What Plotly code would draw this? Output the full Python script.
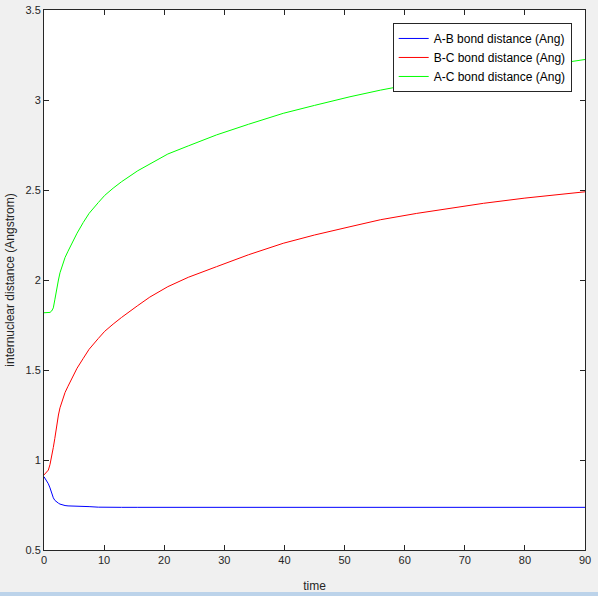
import plotly.graph_objects as go

time = [0, 0.5, 0.72, 1.0, 1.28, 1.55, 1.8, 2.1, 2.4, 2.66, 3.0, 3.5, 4.0, 4.88, 5.5, 6.54, 7.5,
        9.03, 10.1, 11.5, 12.9, 15.6, 17.6, 20.6, 24.0, 28.7, 34.0, 39.8, 45.0, 50.9, 56.0,
        62.0, 67.0, 73.1, 80.0, 85.0, 90.0]
ab_dist = [0.907, 0.880, 0.868, 0.845, 0.815, 0.790, 0.776, 0.766, 0.760, 0.755, 0.751, 0.747,
           0.745, 0.743, 0.742, 0.742, 0.741, 0.738, 0.737, 0.737, 0.737, 0.737, 0.737, 0.737,
           0.737, 0.737, 0.737, 0.737, 0.737, 0.737, 0.737, 0.737, 0.737, 0.737, 0.737, 0.737, 0.737]
bc_dist = [0.917, 0.932, 0.944, 0.975, 1.018, 1.070, 1.120, 1.190, 1.250, 1.290, 1.330, 1.375,
           1.410, 1.470, 1.510, 1.565, 1.615, 1.675, 1.715, 1.755, 1.792, 1.858, 1.905, 1.963,
           2.015, 2.074, 2.140, 2.204, 2.250, 2.296, 2.335, 2.370, 2.395, 2.426, 2.455, 2.472, 2.490]
ac_dist = [1.818, 1.818, 1.818, 1.820, 1.828, 1.845, 1.890, 1.955, 2.000, 2.040, 2.080, 2.125,
           2.160, 2.220, 2.260, 2.320, 2.370, 2.430, 2.470, 2.510, 2.546, 2.607, 2.644, 2.700,
           2.745, 2.806, 2.865, 2.926, 2.970, 3.018, 3.055, 3.093, 3.120, 3.150, 3.180, 3.200, 3.225]
names = ["A-B bond distance (Ang)", "B-C bond distance (Ang)", "A-C bond distance (Ang)"]
colors = ["#0000ff", "#ff0000", "#00ff00"]

FONT = "Liberation Sans, Arial, sans-serif"
AX = "#262626"

fig = go.Figure()
for ys, nm, c in zip([ab_dist, bc_dist, ac_dist], names, colors):
    fig.add_trace(go.Scatter(x=time, y=ys, mode="lines", name=nm,
                             line=dict(color=c, width=1)))

axis_common = dict(showgrid=False, zeroline=False, showline=True, linecolor=AX,
                   linewidth=1, mirror="allticks", ticks="inside", ticklen=5,
                   tickcolor=AX, automargin=False,
                   tickfont=dict(family=FONT, size=11, color=AX))
fig.update_xaxes(range=[0, 90], tickvals=list(range(0, 91, 10)),
                 title=dict(text="time", font=dict(family=FONT, size=12, color=AX), standoff=16),
                 **axis_common)
fig.update_yaxes(range=[0.5, 3.5], tickvals=[0.5, 1, 1.5, 2, 2.5, 3, 3.5],
                 ticktext=["0.5", "1", "1.5", "2", "2.5", "3", "3.5"],
                 title=dict(text="internuclear distance (Angstrom)",
                            font=dict(family=FONT, size=12, color=AX), standoff=8),
                 **axis_common)

fig.add_shape(type="rect", xref="paper", yref="paper", x0=-0.2, x1=1.2,
              y0=-0.078, y1=-0.2, fillcolor="#bcd3ea", line=dict(width=0), layer="above")

fig.update_layout(
    width=598, height=596,
    margin=dict(l=44, r=13, t=10, b=46),
    paper_bgcolor="#f0f0f0", plot_bgcolor="#ffffff",
    legend=dict(x=0.9754, y=0.976, xanchor="right", yanchor="top",
                bgcolor="#ffffff", bordercolor=AX, borderwidth=1,
                font=dict(family=FONT, size=12, color="#000000"),
                tracegroupgap=0, itemwidth=30),
    showlegend=True,
)
fig.write_html("out.html",
               config={"displayModeBar": False},
               post_script="document.body.style.margin='0';"
                           "document.body.style.overflow='hidden';"
                           "document.body.style.background='#f0f0f0';")
